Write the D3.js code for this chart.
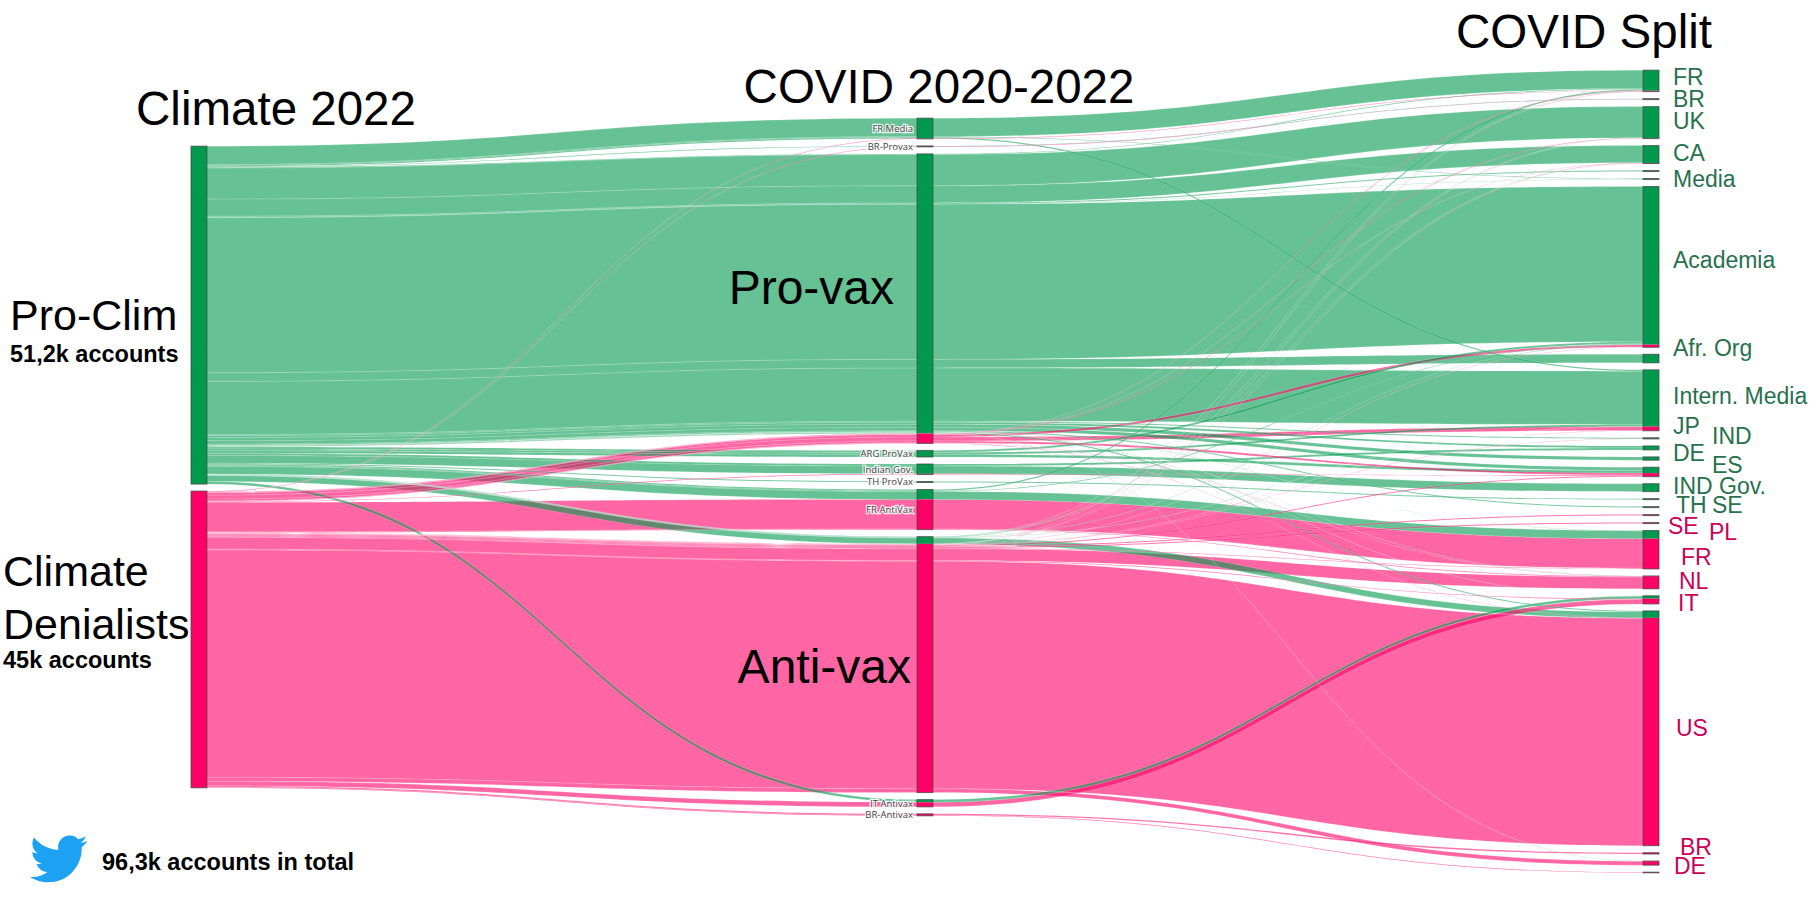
<!DOCTYPE html>
<html>
<head>
<meta charset="utf-8">
<script src="https://cdn.jsdelivr.net/npm/d3@7"></script>
<style>
    body { margin: 0; background: #fff; }
    svg { display: block; font-family: "Liberation Sans", Arial, sans-serif; }
</style>
</head>
<body>
<svg id="chart" width="1816" height="913"></svg>
<script>
// ---- data (thousands of accounts) ----
const climateNodes = ['Pro-Clim', 'Climate Denialists'];
const climateCounts = ['51,2k accounts', '45k accounts'];
const covidNodes = ['FR Media', 'BR-Provax', 'Pro-vax', 'ARG ProVax', 'Indian Gov.', 'TH ProVax',
    'FR AntiVax', 'Anti-vax', 'IT Antivax', 'BR-Antivax'];
const splitIds = ['FR+', 'BR+', 'UK', 'CA', 'misc+', 'Media', 'Academia', 'Afr', 'IntMedia', 'JP', 'IND',
    'DE+', 'ES', 'INDGov', 'TH', 'SE+', 'SE-', 'PL', 'FR-', 'NL', 'IT', 'US', 'BR-', 'DE-', 'misc-'];
const splitLabels = ['FR', 'BR', 'UK', 'CA', '', 'Media', 'Academia', 'Afr. Org', 'Intern. Media', 'JP', 'IND',
    'DE', 'ES', 'IND Gov.', 'TH', 'SE', 'SE', 'PL', 'FR', 'NL', 'IT', 'US', 'BR', 'DE', ''];
const columnTitles = ['Climate 2022', 'COVID 2020-2022', 'COVID Split'];
const totalText = '96,3k accounts in total';

// [climate group, covid community, covid split, value]
const flows = [
    ['Pro-Clim', 'FR Media', 'FR+', 2.8],
    ['Pro-Clim', 'FR Media', 'Media', 0.1],
    ['Pro-Clim', 'FR Media', 'IntMedia', 0.2],
    ['Pro-Clim', 'BR-Provax', 'BR+', 0.1],
    ['Pro-Clim', 'Pro-vax', 'FR+', 0.1],
    ['Pro-Clim', 'Pro-vax', 'UK', 4.75],
    ['Pro-Clim', 'Pro-vax', 'CA', 2.6],
    ['Pro-Clim', 'Pro-vax', 'misc+', 0.15],
    ['Pro-Clim', 'Pro-vax', 'Media', 0.05],
    ['Pro-Clim', 'Pro-vax', 'Academia', 23.58],
    ['Pro-Clim', 'Pro-vax', 'Afr', 1.3],
    ['Pro-Clim', 'Pro-vax', 'IntMedia', 8.1],
    ['Pro-Clim', 'Pro-vax', 'JP', 0.15],
    ['Pro-Clim', 'Pro-vax', 'IND', 0.3],
    ['Pro-Clim', 'Pro-vax', 'DE+', 0.5],
    ['Pro-Clim', 'Pro-vax', 'ES', 0.5],
    ['Pro-Clim', 'Pro-vax', 'SE+', 0.15],
    ['Pro-Clim', 'Pro-vax', 'FR-', 0.03],
    ['Pro-Clim', 'Pro-vax', 'NL', 0.03],
    ['Pro-Clim', 'Pro-vax', 'IT', 0.03],
    ['Pro-Clim', 'Pro-vax', 'US', 0.15],
    ['Pro-Clim', 'Pro-vax', 'DE-', 0.03],
    ['Pro-Clim', 'ARG ProVax', 'ES', 0.4],
    ['Pro-Clim', 'ARG ProVax', 'IntMedia', 0.3],
    ['Pro-Clim', 'ARG ProVax', 'Academia', 0.3],
    ['Pro-Clim', 'Indian Gov.', 'INDGov', 1.2],
    ['Pro-Clim', 'Indian Gov.', 'IND', 0.3],
    ['Pro-Clim', 'TH ProVax', 'TH', 0.15],
    ['Pro-Clim', 'FR AntiVax', 'FR-', 1.2],
    ['Pro-Clim', 'FR AntiVax', 'FR+', 0.2],
    ['Pro-Clim', 'FR AntiVax', 'Academia', 0.1],
    ['Pro-Clim', 'Anti-vax', 'FR+', 0.03],
    ['Pro-Clim', 'Anti-vax', 'UK', 0.03],
    ['Pro-Clim', 'Anti-vax', 'CA', 0.05],
    ['Pro-Clim', 'Anti-vax', 'Academia', 0.05],
    ['Pro-Clim', 'Anti-vax', 'IntMedia', 0.03],
    ['Pro-Clim', 'Anti-vax', 'US', 0.91],
    ['Pro-Clim', 'IT Antivax', 'IT', 0.4],
    ['Climate Denialists', 'FR Media', 'FR+', 0.05],
    ['Climate Denialists', 'BR-Provax', 'BR+', 0.05],
    ['Climate Denialists', 'Pro-vax', 'FR+', 0.05],
    ['Climate Denialists', 'Pro-vax', 'UK', 0.05],
    ['Climate Denialists', 'Pro-vax', 'CA', 0.05],
    ['Climate Denialists', 'Pro-vax', 'Academia', 0.37],
    ['Climate Denialists', 'Pro-vax', 'IntMedia', 0.6],
    ['Climate Denialists', 'Pro-vax', 'ES', 0.3],
    ['Climate Denialists', 'Pro-vax', 'NL', 0.03],
    ['Climate Denialists', 'Pro-vax', 'US', 0.05],
    ['Climate Denialists', 'Indian Gov.', 'ES', 0.1],
    ['Climate Denialists', 'FR AntiVax', 'FR-', 4.5],
    ['Climate Denialists', 'FR AntiVax', 'NL', 0.1],
    ['Climate Denialists', 'Anti-vax', 'FR+', 0.03],
    ['Climate Denialists', 'Anti-vax', 'UK', 0.03],
    ['Climate Denialists', 'Anti-vax', 'CA', 0.03],
    ['Climate Denialists', 'Anti-vax', 'Academia', 0.03],
    ['Climate Denialists', 'Anti-vax', 'IntMedia', 0.03],
    ['Climate Denialists', 'Anti-vax', 'JP', 0.03],
    ['Climate Denialists', 'Anti-vax', 'ES', 0.15],
    ['Climate Denialists', 'Anti-vax', 'SE-', 0.15],
    ['Climate Denialists', 'Anti-vax', 'PL', 0.15],
    ['Climate Denialists', 'Anti-vax', 'FR-', 0.1],
    ['Climate Denialists', 'Anti-vax', 'NL', 1.8],
    ['Climate Denialists', 'Anti-vax', 'IT', 0.1],
    ['Climate Denialists', 'Anti-vax', 'US', 34.57],
    ['Climate Denialists', 'Anti-vax', 'DE-', 0.6],
    ['Climate Denialists', 'IT Antivax', 'IT', 0.7],
    ['Climate Denialists', 'BR-Antivax', 'BR-', 0.2],
    ['Climate Denialists', 'BR-Antivax', 'misc-', 0.1]
];

// ---- layout / style ----
const nodeWidth = 16, nodePad = 7;
const columnCenters = [467, 467, 471.5];
const groupColors = ['#00994d', '#ff0066'];
const splitTextColors = ['#27714d', '#cc0057'];
const bigMiddleLabels = { 'Pro-vax': { dx: -23, dy: -12 }, 'Anti-vax': { dx: -6, dy: 1.5 } };
// label nudges [dx, dy] from the node centre
const splitLabelOffset = {
    'FR+': [0, -4.5], 'BR+': [0, -0.8], 'UK': [0, -2], 'CA': [0, -1.8], 'Media': [0, -0.7],
    'Academia': [0, -7.5], 'Afr': [0, -10.4], 'IntMedia': [0, -4.4], 'JP': [0, -13], 'IND': [39, -12.5],
    'DE+': [0, -6.3], 'ES': [39, -7], 'INDGov': [0, -2.4], 'TH': [3, 6], 'SE+': [39, -2],
    'SE-': [-5, 11], 'PL': [36, 9], 'FR-': [8, 6.5], 'NL': [6, -1.8], 'IT': [5, 3], 'US': [3, -1],
    'BR-': [7, -6.8], 'DE-': [1, 2.6]
};

const svg = d3.select('#chart');

const columns = [
    climateNodes.map((id, i) => ({ id, label: id, col: 0, i })),
    covidNodes.map((id, i) => ({ id, label: id, col: 1, i })),
    splitIds.map((id, i) => ({ id, label: splitLabels[i], col: 2, i }))
];
const lookup = columns.map(col => new Map(col.map(n => [n.id, n])));
columns.forEach(col => col.forEach(n => { n.value = 0; n.parts = [0, 0]; }));

const strands = flows.map(([c, m, s, v]) => {
    const st = { c: lookup[0].get(c), m: lookup[1].get(m), s: lookup[2].get(s), value: v };
    st.g = st.c.i;
    [st.c, st.m, st.s].forEach(n => { n.value += v; n.parts[st.g] += v; });
    return st;
});

const colX = d3.scalePoint().domain([0, 1, 2]).range([191, 1643]);
const hScale = d3.scaleLinear().domain([0, 1]).range([0, 6.58]);

columns.forEach((col, ci) => {
    const total = d3.sum(col, n => hScale(n.value)) + nodePad * (col.length - 1);
    let y = columnCenters[ci] - total / 2;
    col.forEach(n => {
        n.x0 = colX(ci);
        n.x1 = n.x0 + nodeWidth;
        n.y0 = y;
        n.y1 = y + hScale(n.value);
        y = n.y1 + nodePad;
    });
});

// stack strand offsets inside each node
columns[0].forEach(n => {
    let y = n.y0;
    strands.filter(st => st.c === n)
        .sort((a, b) => a.m.i - b.m.i || a.s.i - b.s.i)
        .forEach(st => { st.ya = y; y += hScale(st.value); });
});
columns[1].forEach(n => {
    let y = n.y0;
    strands.filter(st => st.m === n)
        .sort((a, b) => a.g - b.g || a.s.i - b.s.i)
        .forEach(st => { st.yb = y; y += hScale(st.value); });
});
columns[2].forEach(n => {
    let y = n.y0;
    strands.filter(st => st.s === n)
        .sort((a, b) => a.g - b.g || a.m.i - b.m.i)
        .forEach(st => { st.yc = y; y += hScale(st.value); });
});

function band(x0, y0, x1, y1, w) {
    const xm = (x0 + x1) / 2;
    const p = d3.path();
    p.moveTo(x0, y0);
    p.bezierCurveTo(xm, y0, xm, y1, x1, y1);
    p.lineTo(x1, y1 + w);
    p.bezierCurveTo(xm, y1 + w, xm, y0 + w, x0, y0 + w);
    p.closePath();
    return p.toString();
}

// links
const linkData = [];
strands.forEach(st => {
    const w = hScale(st.value);
    linkData.push({ g: st.g, w, d: band(st.c.x1, st.ya, st.m.x0, st.yb, w) });
    linkData.push({ g: st.g, w, d: band(st.m.x1, st.yb, st.s.x0, st.yc, w) });
});
linkData.sort((a, b) => b.w - a.w);

svg.append('g')
    .selectAll('path')
    .data(linkData)
    .join('path')
    .attr('d', d => d.d)
    .attr('fill', d => groupColors[d.g])
    .attr('fill-opacity', 0.6)
    .attr('stroke', '#fff')
    .attr('stroke-opacity', 0.3)
    .attr('stroke-width', 0.5);

// nodes
const allNodes = columns.flat();
const nodeG = svg.append('g')
    .selectAll('g')
    .data(allNodes)
    .join('g');

nodeG.each(function (n) {
    const g = d3.select(this);
    let y = n.y0;
    n.parts.forEach((v, gi) => {
        if (v <= 0) return;
        const hh = hScale(v);
        g.append('rect')
            .attr('x', n.x0)
            .attr('y', y)
            .attr('width', nodeWidth)
            .attr('height', hh)
            .attr('fill', groupColors[gi]);
        y += hh;
    });
    g.append('rect')
        .attr('x', n.x0)
        .attr('y', n.y0)
        .attr('width', nodeWidth)
        .attr('height', Math.max(0.3, n.y1 - n.y0))
        .attr('fill', 'none')
        .attr('stroke', '#444')
        .attr('stroke-opacity', 0.75)
        .attr('stroke-width', 1);
});

// column titles
const titleLayout = [{ x: 276, y: 125 }, { x: 939, y: 103 }, { x: 1584, y: 48 }];
svg.append('g')
    .selectAll('text')
    .data(columnTitles)
    .join('text')
    .attr('x', (d, i) => titleLayout[i].x)
    .attr('y', (d, i) => titleLayout[i].y)
    .attr('text-anchor', 'middle')
    .attr('fill', '#000')
    .style('font-size', '47.5px')
    .text(d => d);

// left labels
const leftLayout = [
    { x: 10, lines: ['Pro-Clim'], dy: [15], countDy: 47 },
    { x: 3, lines: ['Climate', 'Denialists'], dy: [-53, 0], countDy: 29 }
];
columns[0].forEach((n, i) => {
    const cy = (n.y0 + n.y1) / 2;
    const lay = leftLayout[i];
    lay.lines.forEach((line, li) => {
        svg.append('text')
            .attr('x', lay.x)
            .attr('y', cy + lay.dy[li])
            .attr('fill', '#000')
            .style('font-size', '43px')
            .text(line);
    });
    svg.append('text')
        .attr('x', lay.x)
        .attr('y', cy + lay.countDy)
        .attr('fill', '#000')
        .style('font-size', '23.5px')
        .style('font-weight', 'bold')
        .text(climateCounts[i]);
});

// middle labels
columns[1].forEach(n => {
    const cy = (n.y0 + n.y1) / 2;
    const big = bigMiddleLabels[n.id];
    if (big) {
        svg.append('text')
            .attr('x', n.x0 + big.dx)
            .attr('y', cy + big.dy + 17)
            .attr('text-anchor', 'end')
            .attr('fill', '#000')
            .style('font-size', '48px')
            .text(n.label);
    } else {
        svg.append('text')
            .attr('x', n.x0 - 4)
            .attr('y', cy)
            .attr('dy', '0.35em')
            .attr('text-anchor', 'end')
            .attr('fill', '#444')
            .attr('stroke', '#fff')
            .attr('stroke-width', 2.5)
            .attr('stroke-opacity', 0.85)
            .attr('paint-order', 'stroke')
            .style('font-family', '"Open Sans", sans-serif')
            .style('font-size', '9.5px')
            .text(n.label);
    }
});

// right labels
columns[2].filter(n => n.label).forEach(n => {
    const off = splitLabelOffset[n.id] || [0, 0];
    const major = n.parts[0] >= n.parts[1] ? 0 : 1;
    svg.append('text')
        .attr('x', n.x1 + 14 + off[0])
        .attr('y', (n.y0 + n.y1) / 2 + off[1])
        .attr('dy', '0.36em')
        .attr('fill', splitTextColors[major])
        .style('font-size', '23px')
        .text(n.label);
});

// twitter bird + total
svg.append('path')
    .attr('transform', 'translate(30,830) scale(2.4)')
    .attr('fill', '#1da1f2')
    .attr('d', 'M23.953 4.57a10 10 0 01-2.825.775 4.958 4.958 0 002.163-2.723c-.951.555-2.005.959-3.127 1.184a4.92 4.92 0 00-8.384 4.482C7.69 8.095 4.067 6.13 1.64 3.162a4.822 4.822 0 00-.666 2.475c0 1.710.87 3.213 2.188 4.096a4.904 4.904 0 01-2.228-.616v.06a4.923 4.923 0 003.946 4.827 4.996 4.996 0 01-2.212.085 4.936 4.936 0 004.604 3.417 9.867 9.867 0 01-6.102 2.105c-.39 0-.779-.023-1.170-.067a13.995 13.995 0 007.557 2.209c9.053 0 13.998-7.496 13.998-13.985 0-.21 0-.42-.015-.63A9.935 9.935 0 0024 4.59z');

svg.append('text')
    .attr('x', 102)
    .attr('y', 870)
    .attr('fill', '#000')
    .style('font-size', '23.5px')
    .style('font-weight', 'bold')
    .text(totalText);
</script>
</body>
</html>
